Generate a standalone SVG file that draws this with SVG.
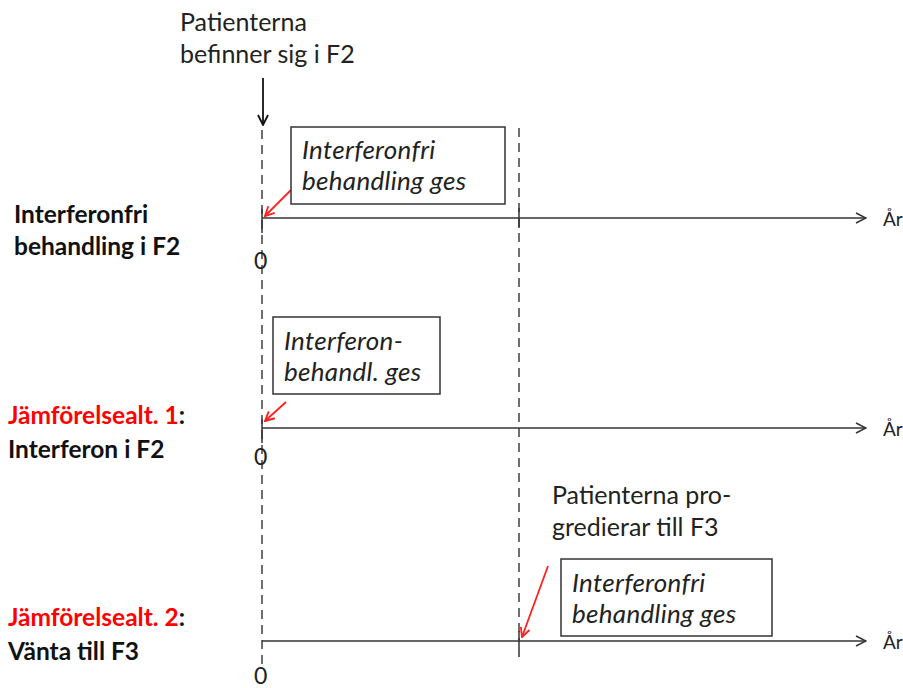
<svg xmlns="http://www.w3.org/2000/svg" width="903" height="688" viewBox="0 0 903 688">
<style>
text{font-family:Lato,"Open Sans","Liberation Sans",sans-serif;font-size:25px;fill:#222}
.b{font-weight:bold;fill:#111;font-size:24.5px}
.i{font-style:italic;font-size:26px;letter-spacing:0.3px}
.red{fill:#ff0000}
.axis{stroke:#333;stroke-width:1.5;fill:none}
.dash{stroke:#222;stroke-width:1.3;stroke-dasharray:9 6;fill:none}
.box{fill:#fff;stroke:#333;stroke-width:1.5}
.ra{stroke:#ff2020;stroke-width:1.8;fill:none}
.yr{font-size:19px}
.z{font-size:23px}
</style>
<defs>
<marker id="open" viewBox="0 0 12 12" refX="11" refY="6" markerWidth="12" markerHeight="12" markerUnits="userSpaceOnUse" orient="auto"><path d="M1,1 L11,6 L1,11" fill="none" stroke="#333" stroke-width="1.5"/></marker>
<marker id="redh" viewBox="0 0 12 12" refX="11" refY="6" markerWidth="11" markerHeight="11" markerUnits="userSpaceOnUse" orient="auto"><path d="M1,1 L11,6 L1,11" fill="none" stroke="#ff2020" stroke-width="2"/></marker>
<marker id="blk" viewBox="0 0 12 12" refX="11" refY="6" markerWidth="12" markerHeight="12" markerUnits="userSpaceOnUse" orient="auto"><path d="M1,1 L11,6 L1,11" fill="none" stroke="#111" stroke-width="1.8"/></marker>
</defs>
<rect width="903" height="688" fill="#fff"/>
<g id="connectors">
<line class="dash" x1="262" y1="130" x2="262" y2="664"/>
<line class="dash" x1="519" y1="128" x2="519" y2="640"/>
<line class="axis" x1="262" y1="218" x2="866" y2="218" marker-end="url(#open)"/>
<line class="axis" x1="262" y1="428" x2="866" y2="428" marker-end="url(#open)"/>
<line class="axis" x1="262" y1="641" x2="866" y2="641" marker-end="url(#open)"/>
<line class="axis" x1="262" y1="209" x2="262" y2="233"/>
<line class="axis" x1="262" y1="419" x2="262" y2="443"/>
<line class="axis" x1="519" y1="208" x2="519" y2="228"/>
<line class="axis" x1="519" y1="631" x2="519" y2="657"/>
<line x1="263" y1="78" x2="263" y2="125" stroke="#111" stroke-width="1.8" marker-end="url(#blk)"/>
<line class="ra" x1="291" y1="190" x2="265" y2="216" marker-end="url(#redh)"/>
<line class="ra" x1="286" y1="402" x2="265" y2="421" marker-end="url(#redh)"/>
<line class="ra" x1="548" y1="566" x2="522" y2="637" marker-end="url(#redh)"/>
</g>
<g id="top-label"><text x="180" y="31">Patienterna</text><text x="180" y="63">befinner sig i F2</text></g>
<g id="box1"><rect class="box" x="291" y="127" width="214" height="77"/><text class="i" x="302" y="159">Interferonfri</text><text class="i" x="302" y="190">behandling ges</text></g>
<g id="box2"><rect class="box" x="273" y="317" width="167" height="77"/><text class="i" x="284" y="350">Interferon-</text><text class="i" x="284" y="381">behandl. ges</text></g>
<g id="box3"><rect class="box" x="561" y="559" width="211" height="77"/><text class="i" x="572" y="592">Interferonfri</text><text class="i" x="572" y="623">behandling ges</text></g>
<g id="prog-label"><text x="552" y="504">Patienterna pro-</text><text x="552" y="536">gredierar till F3</text></g>
<g id="row1"><text class="b" x="14" y="223">Interferonfri</text><text class="b" x="14" y="255">behandling i F2</text><text class="z" x="254" y="269">0</text><text class="yr" x="883" y="226">År</text></g>
<g id="row2"><text class="b" x="8" y="424"><tspan class="red">Jämförelsealt. 1</tspan>:</text><text class="b" x="8" y="458">Interferon i F2</text><text class="z" x="254" y="465">0</text><text class="yr" x="883" y="436">År</text></g>
<g id="row3"><text class="b" x="8" y="626"><tspan class="red">Jämförelsealt. 2</tspan>:</text><text class="b" x="8" y="660">Vänta till F3</text><text class="z" x="254" y="684">0</text><text class="yr" x="883" y="649">År</text></g>
</svg>
